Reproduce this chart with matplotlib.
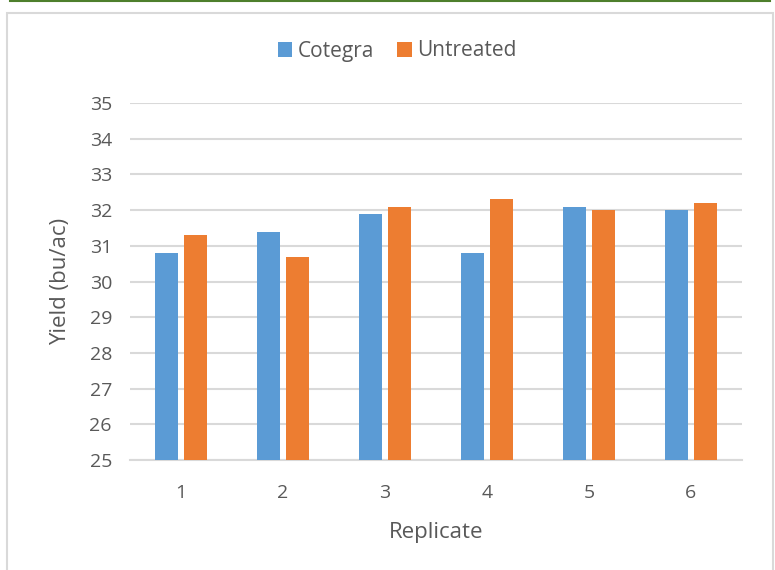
import matplotlib.pyplot as plt
import numpy as np
from matplotlib.patches import Rectangle
from matplotlib.lines import Line2D

# data
replicates = ['1', '2', '3', '4', '5', '6']
cotegra = [30.8, 31.4, 31.9, 30.8, 32.1, 32.0]
untreated = [31.3, 30.7, 32.1, 32.3, 32.0, 32.2]

plt.rcParams['font.family'] = ['Open Sans', 'DejaVu Sans']
txt = '#595959'
grid = '#D9D9D9'

fig = plt.figure(figsize=(7.75, 5.7), dpi=100)

# outer frame + green top rule
fig.patches.append(Rectangle((7 / 775, -0.01), 766 / 775, 1 - 13 / 570 + 0.01,
                             transform=fig.transFigure, fill=False,
                             edgecolor='#D9D9D9', lw=1.5))
fig.lines.append(Line2D([10 / 775, 770 / 775], [0.998, 0.998],
                        transform=fig.transFigure, color='#4E7F2C', lw=1.5))

ax = fig.add_axes([130 / 775, 110 / 570, 612 / 775, 357 / 570])

x = np.arange(len(replicates))
w = 0.225
off = 0.14
ax.bar(x - off, cotegra, w, color='#5B9BD5', label='Cotegra', zorder=3)
ax.bar(x + off, untreated, w, color='#ED7D31', label='Untreated', zorder=3)

ax.set_ylim(25, 35)
ax.set_xlim(-0.5, 5.5)
ax.set_yticks(range(25, 36))
ax.set_xticks(x)
ax.set_xticklabels(replicates)
ax.yaxis.grid(True, color=grid, lw=1.5, zorder=0)
for s in ['top', 'right', 'left']:
    ax.spines[s].set_visible(False)
ax.spines['bottom'].set_color(grid)
ax.spines['bottom'].set_linewidth(1.5)
ax.tick_params(length=0, labelsize=14, colors=txt)
ax.tick_params(axis='x', pad=17)
ax.tick_params(axis='y', pad=13)

ax.set_xlabel('Replicate', fontsize=16, color=txt, labelpad=15)
ax.set_ylabel('Yield (bu/ac)', fontsize=16, color=txt, labelpad=13)

fig.legend(loc='center', bbox_to_anchor=(397 / 775, 1 - 51 / 570), ncol=2, frameon=False,
           fontsize=15, labelcolor=txt, handlelength=0.7, handleheight=0.7,
           handletextpad=0.25, columnspacing=1.1)

plt.savefig('out.png', dpi=100)
